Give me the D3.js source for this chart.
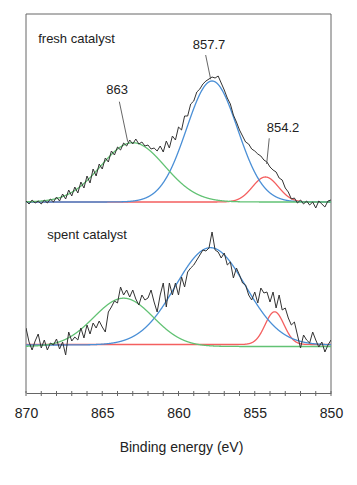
<!DOCTYPE html>
<html><head><meta charset="utf-8">
<script src="https://cdn.jsdelivr.net/npm/d3@7"></script>
<style>
html,body{margin:0;padding:0;background:#fff;}
svg{display:block;font-family:"Liberation Sans",Arial,sans-serif;}
</style></head>
<body><svg id="chart" width="357" height="485"></svg>
<script>
// Binding energy grid: 870 -> 850 eV, step 0.2 eV
const energyStart = 870, energyStep = -0.2;
// Measured spectra (arbitrary intensity units, above own baseline)
const freshCounts = [1,-2,2,-1,1,-2,2,-1,3,0,5,1,8,3,12,6,15,9,20,14,26,19,33,26,38,33,44,40,51,47,55,52,59,56,62,58,63,58,60,56,57,53,54,51,56,50,61,54,66,62,75,72,86,86,98,101,110,113,118,121,123,125,124,126,119,112,104,98,87,80,72,66,60,58,53,51,48,46,42,40,35,32,30,24,22,14,10,3,4,-1,2,-2,1,-3,0,-6,1,-2,-5,1,2];
const spentCounts = [17,3,-5,4,11,-3,5,-5,2,0,6,-4,3,-10,13,4,8,5,17,7,20,11,22,17,24,18,13,33,38,44,42,58,50,55,48,55,46,40,50,45,47,55,43,33,50,62,38,62,50,62,50,68,58,73,77,80,85,90,95,94,97,113,95,93,87,92,80,83,67,77,70,62,60,50,45,53,42,57,52,53,43,53,37,50,35,37,27,20,23,10,-3,10,5,2,13,5,-2,3,-7,0,5];
// Fitted components: [green, blue, red] centre (eV), height, sigma (eV)
const fitNames = ["green","blue","red"];
const freshCenters = [863.0, 857.8, 854.3];
const freshHeights = [59.3, 121, 25];
const freshSigmas  = [2.1, 1.67, 0.85];
const spentCenters = [863.6, 857.9, 853.7];
const spentHeights = [48.3, 97.3, 32.7];
const spentSigmas  = [1.95, 2.3, 0.62];
const spentBaseShift = [-1.5, 0, 0.5];
const fitColors = ["#62c274","#4a8fd6","#f45f5f"];
// vertical offsets of the two spectra
const freshOffset = 143, spentOffset = 0;
// axis ticks
const majorTicks = [870,865,860,855,850];
const minorTicks = d3.range(870, 849, -1);
// text labels
const panelLabels = [
  {text:"fresh catalyst", e:869.2, v:302},
  {text:"spent catalyst", e:868.6, v:106}
];
const peakLabels = [
  {text:"863",   e:864.03, v:251, e1:863.88, v1:243.3, e2:863.33, v2:203.3},
  {text:"857.7", e:858.0,  v:296, e1:858.22, v1:290,   e2:857.89, v2:265.7},
  {text:"854.2", e:853.15, v:213, e1:854.05, v1:206.7, e2:854.22, v2:181}
];

const svg = d3.select("#chart");
const L = 26, R = 331, T = 14, B = 393;
const x = d3.scaleLinear().domain([870,850]).range([L,R]);
const y = d3.scaleLinear().domain([-48,331]).range([B,T]);

const energies = freshCounts.map((_,i)=> +(energyStart + i*energyStep).toFixed(2));
const fine = d3.range(0, 2001).map(i => 870 - i*0.01);
const line = d3.line().x(d=>x(d[0])).y(d=>y(d[1]));

function comp(c,h,s,off,shift){ return fine.map(e=>[e, off + shift + h*Math.exp(-((e-c)*(e-c))/(2*s*s))]); }

// frame
const g = svg.append("g");
g.append("path").attr("d",`M${L},${B}V${T}H${R}V${B}`).attr("fill","none").attr("stroke","#666").attr("stroke-width",1);

// components: red, blue, green order
const order = [2,1,0];
const clip = svg.append("clipPath").attr("id","clp").append("rect").attr("x",L).attr("y",T).attr("width",R-L).attr("height",B-T);
const plot = svg.append("g").attr("clip-path","url(#clp)");
order.forEach(k=>{
  plot.append("path").datum(comp(freshCenters[k],freshHeights[k],freshSigmas[k],freshOffset,0))
    .attr("d",line).attr("fill","none").attr("stroke",fitColors[k]).attr("stroke-width",1.3);
});
order.forEach(k=>{
  plot.append("path").datum(comp(spentCenters[k],spentHeights[k],spentSigmas[k],spentOffset,spentBaseShift[k]))
    .attr("d",line).attr("fill","none").attr("stroke",fitColors[k]).attr("stroke-width",1.3);
});
plot.append("path").datum(freshCounts.map((v,i)=>[energies[i], v+freshOffset]))
  .attr("d",line).attr("fill","none").attr("stroke","#333").attr("stroke-width",1).attr("stroke-linejoin","round");
plot.append("path").datum(spentCounts.map((v,i)=>[energies[i], v+spentOffset]))
  .attr("d",line).attr("fill","none").attr("stroke","#333").attr("stroke-width",1).attr("stroke-linejoin","round");

// bottom axis
const ax = svg.append("g").attr("transform",`translate(0,${B})`);
ax.call(d3.axisBottom(x).tickValues(majorTicks).tickFormat(d3.format("d")).tickSize(0).tickPadding(15));
ax.select(".domain").attr("stroke","#666");
ax.selectAll("text").attr("font-size",14).attr("fill","#222").attr("font-family","'Liberation Sans',Arial,sans-serif");
ax.selectAll(".mtick").data(minorTicks).enter().append("line").attr("class","mtick")
  .attr("x1",d=>x(d)).attr("x2",d=>x(d)).attr("y1",-2).attr("y2",3).attr("stroke","#666");

svg.append("text").attr("x",(L+R)/2 + 3).attr("y",452).attr("text-anchor","middle")
  .attr("font-size",14).attr("fill","#222").text("Binding energy (eV)");

// labels
svg.selectAll(".plab").data(panelLabels).enter().append("text")
  .attr("x",d=>x(d.e)).attr("y",d=>y(d.v)).attr("font-size",13).attr("fill","#222").text(d=>d.text);
svg.selectAll(".lead").data(peakLabels).enter().append("line")
  .attr("x1",d=>x(d.e1)).attr("y1",d=>y(d.v1)).attr("x2",d=>x(d.e2)).attr("y2",d=>y(d.v2))
  .attr("stroke","#555").attr("stroke-width",0.9);
svg.selectAll(".pk").data(peakLabels).enter().append("text")
  .attr("x",d=>x(d.e)).attr("y",d=>y(d.v)).attr("text-anchor","middle").attr("font-size",13).attr("fill","#222").text(d=>d.text);
</script></body></html>
